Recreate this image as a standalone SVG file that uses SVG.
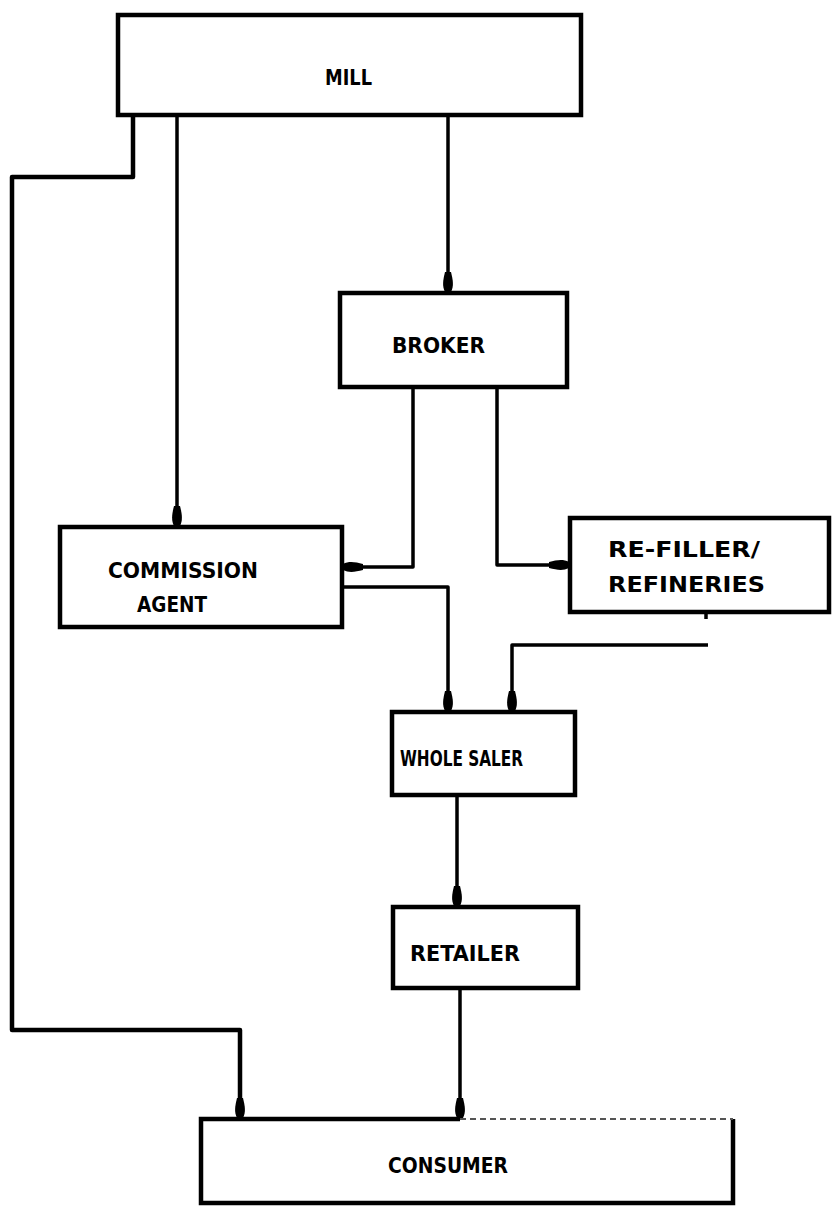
<svg xmlns="http://www.w3.org/2000/svg" width="833" height="1208" viewBox="0 0 833 1208">
<defs>
<marker id="ah" markerUnits="userSpaceOnUse" markerWidth="26" markerHeight="14" viewBox="-22 -7 26 14" refX="0" refY="0" orient="auto">
<path d="M-20,-3 C-12,-5 -6,-6 0,-3 L2,0 L0,3 C-6,6 -12,5 -20,3 Z" fill="#000"/>
</marker>
<style>
.box{fill:#fff;stroke:#000;stroke-width:4.5}
.lbl{font-family:"DejaVu Sans","Liberation Sans",sans-serif;font-weight:bold;font-size:21px;fill:#000}
.c{fill:none;stroke:#000;stroke-width:3.5;stroke-linejoin:round}
.c2{fill:none;stroke:#000;stroke-width:4.5;stroke-linejoin:round}
</style>
</defs>
<rect width="833" height="1208" fill="#fff"/>
<g id="connectors">
<path class="c2" d="M133,115 V177 H12 V1030 H240 V1118" marker-end="url(#ah)"/>
<path class="c" d="M177,115 V526" marker-end="url(#ah)"/>
<path class="c" d="M448,113 V292" marker-end="url(#ah)"/>
<path class="c" d="M413,387 V567 H343" marker-end="url(#ah)"/>
<path class="c" d="M497,387 V565 H569" marker-end="url(#ah)"/>
<path class="c" d="M343,587 H448 V711" marker-end="url(#ah)"/>
<path class="c" d="M708,645 H512 V711" marker-end="url(#ah)"/>
<path class="c" d="M457,795 V906" marker-end="url(#ah)"/>
<path class="c" d="M460,988 V1118" marker-end="url(#ah)"/>
<path class="c" d="M706,612 V619"/>
</g>
<g id="mill">
<rect class="box" x="118" y="15" width="463" height="100"/>
<text class="lbl" x="325" y="85" textLength="47" lengthAdjust="spacingAndGlyphs">MILL</text>
</g>
<g id="broker">
<rect class="box" x="340" y="293" width="227" height="94"/>
<text class="lbl" x="392" y="353" textLength="93" lengthAdjust="spacingAndGlyphs">BROKER</text>
</g>
<g id="commission-agent">
<rect class="box" x="60" y="527" width="282" height="100"/>
<text class="lbl" x="108" y="578" textLength="150" lengthAdjust="spacingAndGlyphs">COMMISSION</text>
<text class="lbl" x="137" y="612" textLength="70" lengthAdjust="spacingAndGlyphs">AGENT</text>
</g>
<g id="refiller">
<rect class="box" x="570" y="518" width="259" height="94"/>
<text class="lbl" x="608" y="557" textLength="152" lengthAdjust="spacingAndGlyphs">RE-FILLER/</text>
<text class="lbl" x="608" y="592" textLength="157" lengthAdjust="spacingAndGlyphs">REFINERIES</text>
</g>
<g id="wholesaler">
<rect class="box" x="392" y="712" width="183" height="83"/>
<text class="lbl" x="400" y="766" textLength="123" lengthAdjust="spacingAndGlyphs">WHOLE SALER</text>
</g>
<g id="retailer">
<rect class="box" x="393" y="907" width="185" height="81"/>
<text class="lbl" x="410" y="961" textLength="110" lengthAdjust="spacingAndGlyphs">RETAILER</text>
</g>
<g id="consumer">
<path class="box" d="M460,1119 H201 V1203 H733 V1119" fill="#fff"/>
<path d="M460,1119 H733" fill="none" stroke="#555" stroke-width="2" stroke-dasharray="6 4"/>
<text class="lbl" x="388" y="1173" textLength="120" lengthAdjust="spacingAndGlyphs" fill="#222">CONSUMER</text>
</g>
</svg>
